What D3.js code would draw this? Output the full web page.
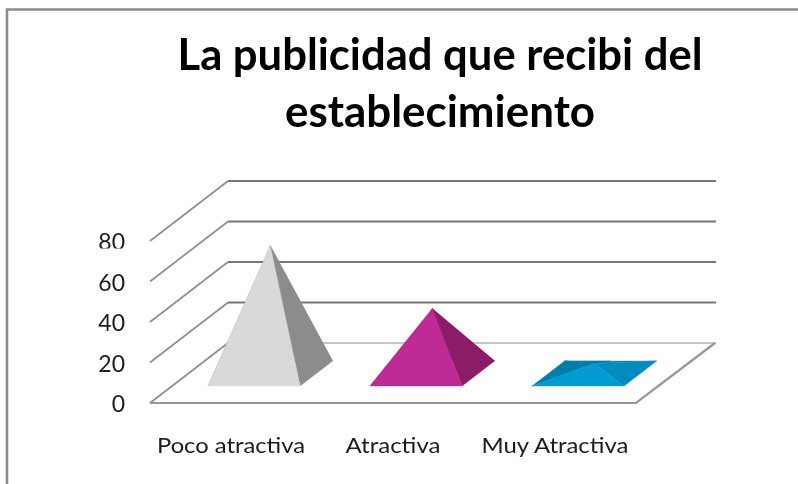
<!DOCTYPE html>
<html>
<head>
<meta charset="utf-8">
<script src="https://cdn.jsdelivr.net/npm/d3@7"></script>
<style>html,body{margin:0;padding:0;background:#fff}svg{display:block}</style>
</head>
<body>
<svg id="c" width="798" height="484"></svg>
<script>
const titleLines = ["La publicidad que recibi del", "establecimiento"];
const categories = ["Poco atractiva", "Atractiva", "Muy Atractiva"];
const values = [63, 32, 5];
const yTicks = [0, 20, 40, 60, 80];
const faceColors = [
  {front:"#d9d9d9", right:"#8c8c8c", left:"#8c8c8c", back:"#8c8c8c"},
  {front:"#c02a96", right:"#8a1c68", left:"#8a1c68", back:"#8a1c68"},
  {front:"#009bd2", right:"#008cbf", left:"#007da8", back:"#008cbf"}
];

const svg = d3.select("#c");
const defs = svg.append("defs");
defs.append("filter").attr("id","soft").append("feGaussianBlur").attr("stdDeviation",0.55);
defs.append("clipPath").attr("id","cut80").append("rect").attr("x",80).attr("y",225).attr("width",60).attr("height",23.5);

// Frame
svg.append("path").attr("d","M7,484V9.5H798").attr("fill","none").attr("stroke","#8c8c8c").attr("stroke-width",2.6);

const x = d3.scaleBand().domain(categories).range([150,636]);
const y = d3.scaleLinear().domain([0,80]).range([403,241]);
const depthX = 78, depthY = -60;
const proj = (px, t, v) => [px + depthX*t, y(v) + depthY*t];
const line = d3.line();

const g = svg.append("g").attr("filter","url(#soft)");

// Walls & gridlines
yTicks.forEach(t => {
  const a = proj(150,0,t), b = proj(150,1,t), c = [716, b[1]];
  g.append("path").attr("d",line([a,b])).attr("fill","none").attr("stroke","#909090").attr("stroke-width",1.8);
  g.append("path").attr("d",line([b,c])).attr("fill","none")
    .attr("stroke", t===0 ? "#b4b4b4" : "#777").attr("stroke-width", t===0 ? 1.5 : 2);
});
// Floor front and right edge
g.append("path").attr("d",line([proj(150,0,0),proj(636,0,0),proj(637,1,0)]))
  .attr("fill","none").attr("stroke","#969696").attr("stroke-width",2.2);

// Pyramids
const halfBar = 46, t0 = 0.283, t1 = 0.7;
categories.forEach((cat,i) => {
  const cx = x(cat) + x.bandwidth()/2 + 1, col = faceColors[i];
  const fl = proj(cx-halfBar,t0,0), fr = proj(cx+halfBar,t0,0),
        br = proj(cx+halfBar,t1,0), bl = proj(cx-halfBar,t1,0),
        apex = proj(cx,(t0+t1)/2,values[i]);
  const backMid = proj(cx,t1,0);
  const faces = [[bl,br,apex,col.back],[fl,bl,apex,col.left],[bl,backMid,apex,col.left],[fr,br,apex,col.right],[fl,fr,apex,col.front]];
  g.selectAll(null).data(faces).enter().append("path")
    .attr("d",d=>line(d.slice(0,3))+"Z").attr("fill",d=>d[3]).attr("stroke",d=>d[3]).attr("stroke-width",0.4);
});

// Y labels
yTicks.forEach(t => {
  const wrap = g.append("g");
  if (t===80) wrap.attr("clip-path","url(#cut80)");
  wrap.append("text").attr("x",125).attr("y",y(t)+9).attr("text-anchor","end")
    .attr("font-family","Lato").attr("font-size",23).attr("fill","#1c1c1c").text(t);
});

// Category labels
const labelW = [148,95,147];
categories.forEach((cat,i) => {
  g.append("text").attr("x",x(cat)+x.bandwidth()/2).attr("y",452.5).attr("text-anchor","middle")
    .attr("font-family","Lato").attr("font-size",22).attr("fill","#1c1c1c")
    .attr("textLength",labelW[i]).attr("lengthAdjust","spacingAndGlyphs").text(cat);
});

// Title
const titleW = [525,310], titleY = [70,127];
titleLines.forEach((s,i) => {
  g.append("text").attr("x",440).attr("y",titleY[i]).attr("text-anchor","middle")
    .attr("font-family","Lato").attr("font-weight",700).attr("font-size",43).attr("fill","#000")
    .attr("textLength",titleW[i]).attr("lengthAdjust","spacingAndGlyphs").text(s);
});
</script>
</body>
</html>
